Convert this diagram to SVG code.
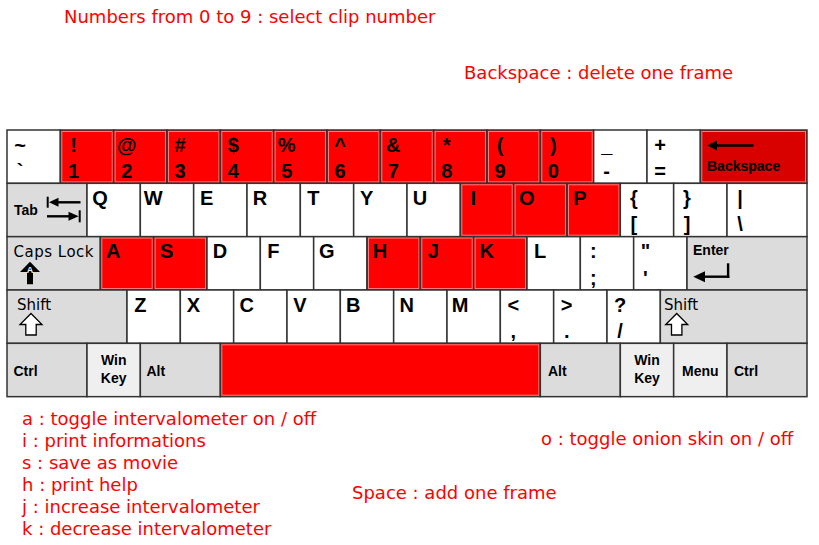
<svg xmlns="http://www.w3.org/2000/svg" width="819" height="545" viewBox="0 0 819 545">
<style>
.k{fill:#fff;stroke:#333;stroke-width:1.5}
.g{fill:#dcdcdc;stroke:#333;stroke-width:1.5}
.l{fill:#efefef;stroke:#333;stroke-width:1.5}
.r{fill:#ff0000;stroke:#333;stroke-width:1.5}
.br{fill:#d90000;stroke:#333;stroke-width:1.5}
.ri{fill:none;stroke:#ff7a7a;stroke-width:1}
.lab{font-family:"Liberation Sans",Arial,sans-serif;font-weight:bold;font-size:20px;fill:#000;text-anchor:middle}
.mod{font-family:"Liberation Sans",Arial,sans-serif;font-weight:bold;font-size:14px;fill:#000}
.mc{font-family:"Liberation Sans",Arial,sans-serif;font-weight:bold;font-size:14px;fill:#000;text-anchor:middle}
.dv{font-family:"DejaVu Sans",sans-serif;font-size:15px;fill:#000}
.note{font-family:"DejaVu Sans",sans-serif;font-size:18px;fill:#ff0000}
</style>
<rect width="819" height="545" fill="#fff"/>

<g id="notes">
<text class="note" x="64" y="23">Numbers from 0 to 9 : select clip number</text>
<text class="note" x="464" y="79">Backspace : delete one frame</text>
<text class="note" x="22" y="425">a : toggle intervalometer on / off</text>
<text class="note" x="22" y="447">i : print informations</text>
<text class="note" x="22" y="469">s : save as movie</text>
<text class="note" x="22" y="491">h : print help</text>
<text class="note" x="22" y="513">j : increase intervalometer</text>
<text class="note" x="22" y="535">k : decrease intervalometer</text>
<text class="note" x="541" y="445">o : toggle onion skin on / off</text>
<text class="note" x="352" y="499">Space : add one frame</text>
</g>

<g id="connectors"></g>

<!-- Row 1 -->
<g id="key-tilde"><rect class="k" x="7" y="130" width="53.33" height="53.33"/><text class="lab" x="20" y="151.5">~</text><text class="lab" x="20" y="178">`</text></g>
<g id="key-1"><rect class="r" x="60.33" y="130" width="53.33" height="53.33"/><rect class="ri" x="61.8" y="131.5" width="50.4" height="50.4"/><text class="lab" x="73.5" y="151.5">!</text><text class="lab" x="73.5" y="178">1</text></g>
<g id="key-2"><rect class="r" x="113.67" y="130" width="53.33" height="53.33"/><rect class="ri" x="115.1" y="131.5" width="50.4" height="50.4"/><text class="lab" x="126.7" y="151.5">@</text><text class="lab" x="126.7" y="178">2</text></g>
<g id="key-3"><rect class="r" x="167" y="130" width="53.33" height="53.33"/><rect class="ri" x="168.5" y="131.5" width="50.4" height="50.4"/><text class="lab" x="180" y="151.5">#</text><text class="lab" x="180" y="178">3</text></g>
<g id="key-4"><rect class="r" x="220.33" y="130" width="53.33" height="53.33"/><rect class="ri" x="221.8" y="131.5" width="50.4" height="50.4"/><text class="lab" x="233.3" y="151.5">$</text><text class="lab" x="233.3" y="178">4</text></g>
<g id="key-5"><rect class="r" x="273.67" y="130" width="53.33" height="53.33"/><rect class="ri" x="275.1" y="131.5" width="50.4" height="50.4"/><text class="lab" x="286.7" y="151.5">%</text><text class="lab" x="286.7" y="178">5</text></g>
<g id="key-6"><rect class="r" x="327" y="130" width="53.33" height="53.33"/><rect class="ri" x="328.5" y="131.5" width="50.4" height="50.4"/><text class="lab" x="340" y="151.5">^</text><text class="lab" x="340" y="178">6</text></g>
<g id="key-7"><rect class="r" x="380.33" y="130" width="53.33" height="53.33"/><rect class="ri" x="381.8" y="131.5" width="50.4" height="50.4"/><text class="lab" x="393.3" y="151.5">&amp;</text><text class="lab" x="393.3" y="178">7</text></g>
<g id="key-8"><rect class="r" x="433.67" y="130" width="53.33" height="53.33"/><rect class="ri" x="435.1" y="131.5" width="50.4" height="50.4"/><text class="lab" x="446.7" y="151.5">*</text><text class="lab" x="446.7" y="178">8</text></g>
<g id="key-9"><rect class="r" x="487" y="130" width="53.33" height="53.33"/><rect class="ri" x="488.5" y="131.5" width="50.4" height="50.4"/><text class="lab" x="500" y="151.5">(</text><text class="lab" x="500" y="178">9</text></g>
<g id="key-0"><rect class="r" x="540.33" y="130" width="53.33" height="53.33"/><rect class="ri" x="541.8" y="131.5" width="50.4" height="50.4"/><text class="lab" x="553.3" y="151.5">)</text><text class="lab" x="553.3" y="178">0</text></g>
<g id="key-minus"><rect class="k" x="593.67" y="130" width="53.33" height="53.33"/><text class="lab" x="606.7" y="151.5">_</text><text class="lab" x="606.7" y="178">-</text></g>
<g id="key-equal"><rect class="k" x="647" y="130" width="53.33" height="53.33"/><text class="lab" x="660" y="151.5">+</text><text class="lab" x="660" y="178">=</text></g>
<g id="key-backspace"><rect class="br" x="700.33" y="130" width="106.67" height="53.33"/><rect class="ri" x="701.8" y="131.5" width="103.7" height="50.4"/>
<polygon points="707,145.5 717,140.5 717,150.5" fill="#000"/><line x1="716" y1="145.5" x2="753.5" y2="145.5" stroke="#000" stroke-width="2.6"/>
<text class="mod" x="707" y="171">Backspace</text></g>

<!-- Row 2 -->
<g id="key-tab"><rect class="g" x="7" y="183.33" width="80" height="53.33"/><text class="mod" x="14" y="215">Tab</text>
<rect x="46.7" y="196.7" width="2" height="11" fill="#000"/><polygon points="49,202.3 58.5,197.8 58.5,206.8" fill="#000"/><line x1="58" y1="202.3" x2="80.5" y2="202.3" stroke="#000" stroke-width="2.4"/>
<rect x="78.7" y="210.3" width="2" height="12" fill="#000"/><polygon points="78.7,216.3 68.5,211.8 68.5,220.8" fill="#000"/><line x1="47" y1="216.3" x2="69" y2="216.3" stroke="#000" stroke-width="2.4"/></g>
<g id="key-q"><rect class="k" x="87" y="183.33" width="53.33" height="53.33"/><text class="lab" x="100" y="204.8">Q</text></g>
<g id="key-w"><rect class="k" x="140.33" y="183.33" width="53.33" height="53.33"/><text class="lab" x="153.3" y="204.8">W</text></g>
<g id="key-e"><rect class="k" x="193.67" y="183.33" width="53.33" height="53.33"/><text class="lab" x="206.7" y="204.8">E</text></g>
<g id="key-r"><rect class="k" x="247" y="183.33" width="53.33" height="53.33"/><text class="lab" x="260" y="204.8">R</text></g>
<g id="key-t"><rect class="k" x="300.33" y="183.33" width="53.33" height="53.33"/><text class="lab" x="313.3" y="204.8">T</text></g>
<g id="key-y"><rect class="k" x="353.67" y="183.33" width="53.33" height="53.33"/><text class="lab" x="366.7" y="204.8">Y</text></g>
<g id="key-u"><rect class="k" x="407" y="183.33" width="53.33" height="53.33"/><text class="lab" x="420" y="204.8">U</text></g>
<g id="key-i"><rect class="r" x="460.33" y="183.33" width="53.33" height="53.33"/><rect class="ri" x="461.8" y="184.8" width="50.4" height="50.4"/><text class="lab" x="473.3" y="204.8">I</text></g>
<g id="key-o"><rect class="r" x="513.67" y="183.33" width="53.33" height="53.33"/><rect class="ri" x="515.1" y="184.8" width="50.4" height="50.4"/><text class="lab" x="526.7" y="204.8">O</text></g>
<g id="key-p"><rect class="r" x="567" y="183.33" width="53.33" height="53.33"/><rect class="ri" x="568.5" y="184.8" width="50.4" height="50.4"/><text class="lab" x="580" y="204.8">P</text></g>
<g id="key-lbracket"><rect class="k" x="620.33" y="183.33" width="53.33" height="53.33"/><text class="lab" x="633.8" y="204.8">{</text><text class="lab" x="633.8" y="231.3">[</text></g>
<g id="key-rbracket"><rect class="k" x="673.67" y="183.33" width="53.33" height="53.33"/><text class="lab" x="687" y="204.8">}</text><text class="lab" x="687" y="231.3">]</text></g>
<g id="key-backslash"><rect class="k" x="727" y="183.33" width="80" height="53.33"/><text class="lab" x="740" y="204.8">|</text><text class="lab" x="740" y="231.3">\</text></g>

<!-- Row 3 -->
<g id="key-capslock"><rect class="g" x="7" y="236.67" width="93.33" height="53.33"/><text class="dv" x="13.5" y="256.5" textLength="80" lengthAdjust="spacing">Caps Lock</text>
<polygon points="30,261.7 40,272 33,272 33,284.3 27,284.3 27,272 20,272" fill="#000"/>
<text x="30" y="272.5" font-family="Liberation Sans,Arial,sans-serif" font-weight="bold" font-size="9" fill="#fff" text-anchor="middle">A</text></g>
<g id="key-a"><rect class="r" x="100.33" y="236.67" width="53.33" height="53.33"/><rect class="ri" x="101.8" y="238.1" width="50.4" height="50.4"/><text class="lab" x="113.3" y="258.2">A</text></g>
<g id="key-s"><rect class="r" x="153.67" y="236.67" width="53.33" height="53.33"/><rect class="ri" x="155.1" y="238.1" width="50.4" height="50.4"/><text class="lab" x="166.7" y="258.2">S</text></g>
<g id="key-d"><rect class="k" x="207" y="236.67" width="53.33" height="53.33"/><text class="lab" x="220" y="258.2">D</text></g>
<g id="key-f"><rect class="k" x="260.33" y="236.67" width="53.33" height="53.33"/><text class="lab" x="273.3" y="258.2">F</text></g>
<g id="key-g"><rect class="k" x="313.67" y="236.67" width="53.33" height="53.33"/><text class="lab" x="326.7" y="258.2">G</text></g>
<g id="key-h"><rect class="r" x="367" y="236.67" width="53.33" height="53.33"/><rect class="ri" x="368.5" y="238.1" width="50.4" height="50.4"/><text class="lab" x="380" y="258.2">H</text></g>
<g id="key-j"><rect class="r" x="420.33" y="236.67" width="53.33" height="53.33"/><rect class="ri" x="421.8" y="238.1" width="50.4" height="50.4"/><text class="lab" x="433.3" y="258.2">J</text></g>
<g id="key-k"><rect class="r" x="473.67" y="236.67" width="53.33" height="53.33"/><rect class="ri" x="475.1" y="238.1" width="50.4" height="50.4"/><text class="lab" x="486.7" y="258.2">K</text></g>
<g id="key-l"><rect class="k" x="527" y="236.67" width="53.33" height="53.33"/><text class="lab" x="540" y="258.2">L</text></g>
<g id="key-semicolon"><rect class="k" x="580.33" y="236.67" width="53.33" height="53.33"/><text class="lab" x="593.3" y="258.2">:</text><text class="lab" x="593.3" y="284.7">;</text></g>
<g id="key-quote"><rect class="k" x="633.67" y="236.67" width="53.33" height="53.33"/><text class="lab" x="645.5" y="258.2">"</text><text class="lab" x="645.5" y="284.7">'</text></g>
<g id="key-enter"><rect class="g" x="687" y="236.67" width="120" height="53.33"/><text class="mod" x="693" y="255">Enter</text>
<polygon points="693.3,276.7 705,271.2 705,282.2" fill="#000"/><line x1="704" y1="276.7" x2="729.3" y2="276.7" stroke="#000" stroke-width="2.4"/><line x1="728.1" y1="263.3" x2="728.1" y2="277.9" stroke="#000" stroke-width="2.4"/></g>

<!-- Row 4 -->
<g id="key-lshift"><rect class="g" x="7" y="290" width="120" height="53.33"/><text class="dv" x="17" y="310">Shift</text>
<polygon points="31,313.5 42,324.5 36.2,324.5 36.2,335 25.8,335 25.8,324.5 20,324.5" fill="#fff" stroke="#000" stroke-width="1.3" stroke-linejoin="miter"/></g>
<g id="key-z"><rect class="k" x="127" y="290" width="53.33" height="53.33"/><text class="lab" x="140.3" y="311.5">Z</text></g>
<g id="key-x"><rect class="k" x="180.33" y="290" width="53.33" height="53.33"/><text class="lab" x="193.3" y="311.5">X</text></g>
<g id="key-c"><rect class="k" x="233.67" y="290" width="53.33" height="53.33"/><text class="lab" x="246.7" y="311.5">C</text></g>
<g id="key-v"><rect class="k" x="287" y="290" width="53.33" height="53.33"/><text class="lab" x="300" y="311.5">V</text></g>
<g id="key-b"><rect class="k" x="340.33" y="290" width="53.33" height="53.33"/><text class="lab" x="353.3" y="311.5">B</text></g>
<g id="key-n"><rect class="k" x="393.67" y="290" width="53.33" height="53.33"/><text class="lab" x="406.7" y="311.5">N</text></g>
<g id="key-m"><rect class="k" x="447" y="290" width="53.33" height="53.33"/><text class="lab" x="460" y="311.5">M</text></g>
<g id="key-comma"><rect class="k" x="500.33" y="290" width="53.33" height="53.33"/><text class="lab" x="513.3" y="311.5">&lt;</text><text class="lab" x="513.3" y="338">,</text></g>
<g id="key-period"><rect class="k" x="553.67" y="290" width="53.33" height="53.33"/><text class="lab" x="566.7" y="311.5">&gt;</text><text class="lab" x="566.7" y="338">.</text></g>
<g id="key-slash"><rect class="k" x="607" y="290" width="53.33" height="53.33"/><text class="lab" x="620" y="311.5">?</text><text class="lab" x="620" y="338">/</text></g>
<g id="key-rshift"><rect class="g" x="660.33" y="290" width="146.67" height="53.33"/><text class="dv" x="664" y="310">Shift</text>
<polygon points="676.7,313.5 687.7,324.5 681.9,324.5 681.9,335 671.5,335 671.5,324.5 665.7,324.5" fill="#fff" stroke="#000" stroke-width="1.3"/></g>

<!-- Row 5 -->
<g id="key-lctrl"><rect class="g" x="7" y="343.33" width="80" height="53.33"/><text class="mod" x="13.5" y="375.5">Ctrl</text></g>
<g id="key-lwin"><rect class="l" x="87" y="343.33" width="53.33" height="53.33"/><text class="mc" x="113.7" y="365">Win</text><text class="mc" x="113.7" y="382.5">Key</text></g>
<g id="key-lalt"><rect class="g" x="140.33" y="343.33" width="80" height="53.33"/><text class="mod" x="146.5" y="375.5">Alt</text></g>
<g id="key-space"><rect class="r" x="220.33" y="343.33" width="320" height="53.33"/><rect class="ri" x="221.8" y="344.8" width="317" height="50.4"/></g>
<g id="key-ralt"><rect class="g" x="540.33" y="343.33" width="80" height="53.33"/><text class="mod" x="548" y="375.5">Alt</text></g>
<g id="key-rwin"><rect class="l" x="620.33" y="343.33" width="53.33" height="53.33"/><text class="mc" x="647" y="365">Win</text><text class="mc" x="647" y="382.5">Key</text></g>
<g id="key-menu"><rect class="l" x="673.67" y="343.33" width="53.33" height="53.33"/><text class="mc" x="700.3" y="375.5">Menu</text></g>
<g id="key-rctrl"><rect class="g" x="727" y="343.33" width="80" height="53.33"/><text class="mod" x="734" y="375.5">Ctrl</text></g>
</svg>
